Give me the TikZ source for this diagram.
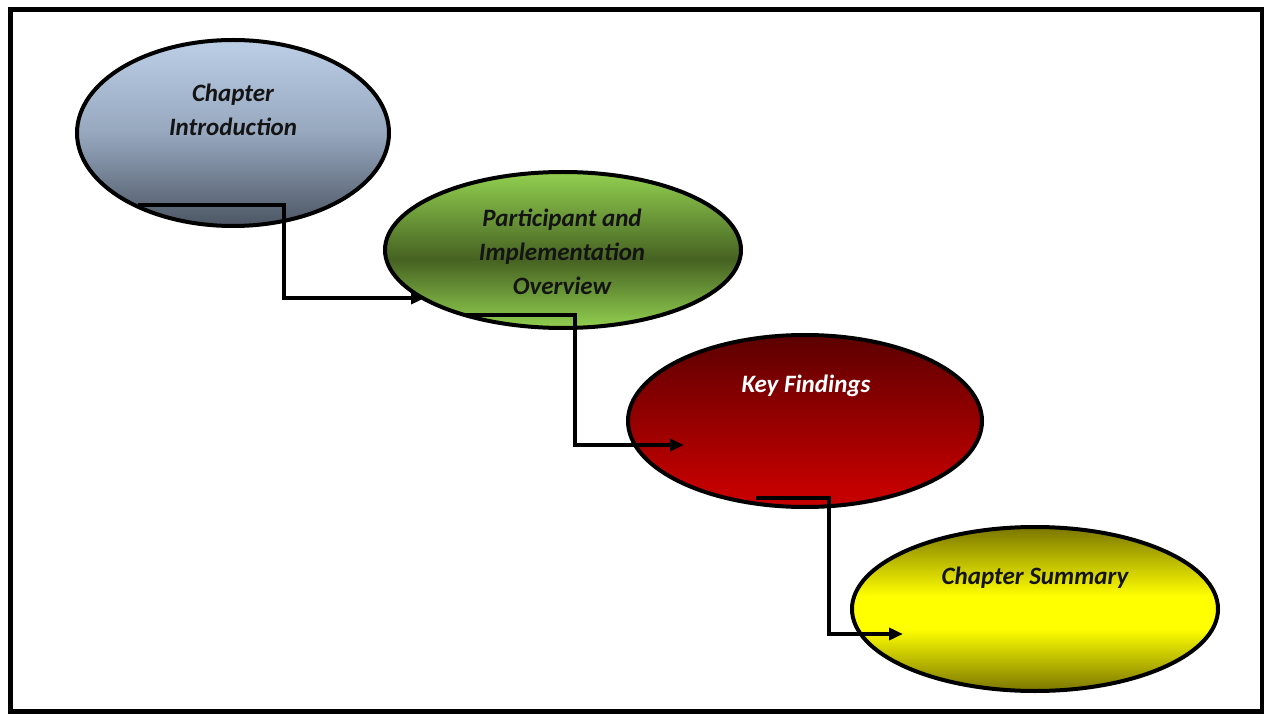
\documentclass[tikz,border=0pt]{standalone}
\usepackage{fontspec}
\setmainfont{Carlito}
\usetikzlibrary{shapes.geometric,arrows.meta}
\definecolor{blueT}{RGB}{188,207,231}
\definecolor{blueM}{RGB}{150,167,190}
\definecolor{blueB}{RGB}{76,86,100}
\definecolor{greenL}{RGB}{146,208,80}
\definecolor{greenD}{RGB}{70,98,34}
\definecolor{redT}{RGB}{92,0,0}
\definecolor{redB}{RGB}{196,0,0}
\definecolor{yelL}{RGB}{255,255,0}
\definecolor{yelD}{RGB}{122,118,0}
\definecolor{txt}{RGB}{20,20,20}
\pgfdeclareverticalshading{blueshade}{100bp}{color(0bp)=(blueB); color(25bp)=(blueB); color(50bp)=(blueM); color(75bp)=(blueT); color(100bp)=(blueT)}
\pgfdeclareverticalshading{greenshade}{100bp}{color(0bp)=(greenL); color(25bp)=(greenL); color(47bp)=(greenD); color(75bp)=(greenL); color(100bp)=(greenL)}
\pgfdeclareverticalshading{redshade}{100bp}{color(0bp)=(redB); color(30bp)=(redB); color(75bp)=(redT); color(100bp)=(redT)}
\pgfdeclareverticalshading{yellowshade}{100bp}{color(0bp)=(yelD); color(25bp)=(yelD); color(44bp)=(yelL); color(54bp)=(yelL); color(75bp)=(yelD); color(100bp)=(yelD)}
\tikzset{
  oval/.style={ellipse, draw=black, line width=4pt, inner sep=0pt},
  lbl/.style={font=\fontsize{25}{34}\selectfont\bfseries\itshape, align=center, text=txt, inner sep=0pt},
  conn/.style={line width=3.5pt, draw=black, -{Triangle[length=14pt,width=12pt]}},
}
\begin{document}
\begin{tikzpicture}[x=1pt,y=-1pt]
\useasboundingbox (0,0) rectangle (1264,719);
\fill[white] (0,0) rectangle (1264,719);
\draw[line width=5pt] (10.5,10) rectangle (1262,711);

\node[oval, minimum width=312pt, minimum height=186pt, shading=blueshade] (e1) at (233,133) {};
\node[oval, minimum width=356pt, minimum height=156pt, shading=greenshade] (e2) at (563,250) {};
\node[oval, minimum width=354pt, minimum height=172pt, shading=redshade] (e3) at (805,421) {};
\node[oval, minimum width=366pt, minimum height=164pt, shading=yellowshade] (e4) at (1035,609) {};

\node[lbl] (t1) at (233,110) {Chapter\\Introduction};
\node[lbl] (t2) at (562,252) {Participant and\\Implementation\\Overview};
\node[lbl, text=white] (t3) at (806,386) {Key Findings};
\node[lbl] (t4) at (1035,578) {Chapter Summary};

\coordinate (a1s) at (138,205);
\coordinate (a1e) at (425,298);
\coordinate (a2s) at (466,315);
\coordinate (a2e) at (684,445);
\coordinate (a3s) at (756,498);
\coordinate (a3e) at (903,634);

\draw[conn] (a1s) -- ++(146,0) |- (a1e);
\draw[conn] (a2s) -- ++(109,0) |- (a2e);
\draw[conn] (a3s) -- ++(73,0) |- (a3e);
\end{tikzpicture}
\end{document}
